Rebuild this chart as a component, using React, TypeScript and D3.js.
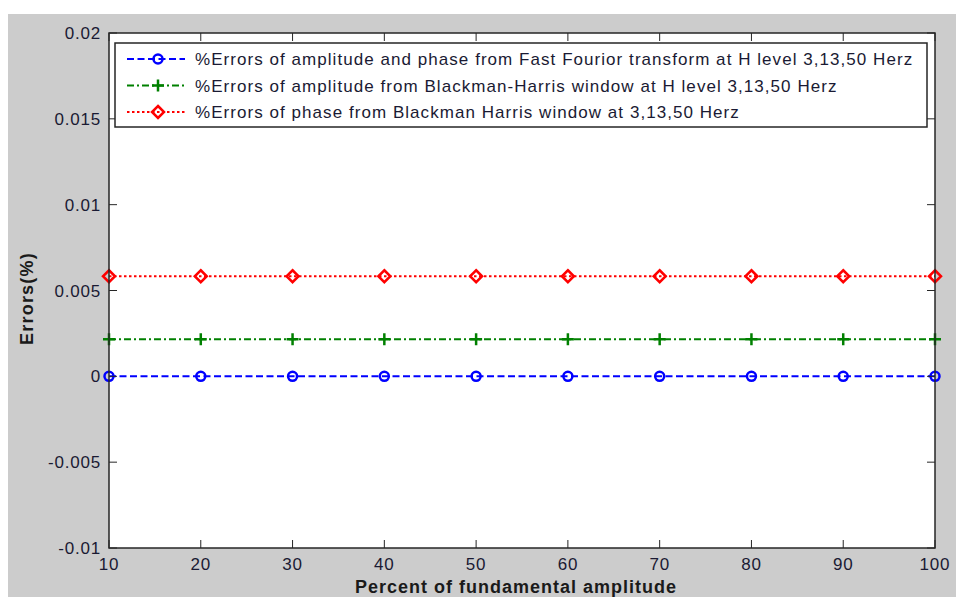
import React from "react";
import * as d3 from "d3";

const xValues = [10, 20, 30, 40, 50, 60, 70, 80, 90, 100];
const fftErrors = [0, 0, 0, 0, 0, 0, 0, 0, 0, 0];
const bhAmpErrors = [0.00216, 0.00216, 0.00216, 0.00216, 0.00216, 0.00216, 0.00216, 0.00216, 0.00216, 0.00216];
const bhPhaseErrors = [0.00583, 0.00583, 0.00583, 0.00583, 0.00583, 0.00583, 0.00583, 0.00583, 0.00583, 0.00583];
const yTicks = [-0.01, -0.005, 0, 0.005, 0.01, 0.015, 0.02];
const yTickLabels = ["-0.01", "-0.005", "0", "0.005", "0.01", "0.015", "0.02"];
const xTicks = [10, 20, 30, 40, 50, 60, 70, 80, 90, 100];
const legendLabels = [
  "%Errors of amplitude and phase from Fast Fourior transform at H level 3,13,50 Herz",
  "%Errors of amplitude from Blackman-Harris window at H level 3,13,50 Herz",
  "%Errors of phase from Blackman Harris window at 3,13,50 Herz",
];

const W = 956, H = 597;
const L = 109, R = 935, T = 33, B = 548;
const font = "'Liberation Sans', Arial, sans-serif";

type S = { data: number[]; color: string; dash: string; marker: "circle" | "plus" | "diamond" };
const series: S[] = [
  { data: fftErrors, color: "#0000ff", dash: "7,3.5", marker: "circle" },
  { data: bhAmpErrors, color: "#008000", dash: "7,3,2,3", marker: "plus" },
  { data: bhPhaseErrors, color: "#ff0000", dash: "2.5,2.5", marker: "diamond" },
];

function Marker({ kind, x, y, color }: { kind: string; x: number; y: number; color: string }) {
  if (kind === "circle") return <circle cx={x} cy={y} r={4.5} fill="none" stroke={color} strokeWidth={2.5} />;
  if (kind === "plus")
    return (
      <path d={`M${x - 6},${y}H${x + 6}M${x},${y - 6}V${y + 6}`} stroke={color} strokeWidth={2.5} fill="none" />
    );
  return (
    <path d={`M${x},${y - 6}L${x + 6},${y}L${x},${y + 6}L${x - 6},${y}Z`} stroke={color} strokeWidth={2.5} fill="none" />
  );
}

export default function App() {
  const x = d3.scaleLinear().domain([10, 100]).range([L, R]);
  const y = d3.scaleLinear().domain([-0.01, 0.02]).range([B, T]);
  const line = d3.line<number>().x((_, i) => x(xValues[i])).y((d) => y(d));
  const legX = 115, legY = 43, legW = 812, legH = 84;
  const tickFont = { fontFamily: font, fontSize: 17, letterSpacing: 0.8, fill: "#1a1a33" } as const;
  return (
    <svg width={W} height={H} style={{ position: "absolute", left: 0, top: 0 }}>
      <rect x={8} y={14} width={W - 8} height={H - 14} fill="#cccccc" />
      <rect x={L} y={T} width={R - L} height={B - T} fill="#ffffff" />
      {series.map((s, si) => (
        <g key={si}>
          <path d={line(s.data) || ""} fill="none" stroke={s.color} strokeWidth={2} strokeDasharray={s.dash} />
          {s.data.map((v, i) => (
            <Marker key={i} kind={s.marker} x={x(xValues[i])} y={y(v)} color={s.color} />
          ))}
        </g>
      ))}
      <rect x={L} y={T} width={R - L} height={B - T} fill="none" stroke="#262626" strokeWidth={1.5} />
      {xTicks.map((t) => (
        <g key={t}>
          <line x1={x(t)} x2={x(t)} y1={B} y2={B - 8} stroke="#262626" />
          <line x1={x(t)} x2={x(t)} y1={T} y2={T + 8} stroke="#262626" />
          <text x={x(t)} y={B + 22} textAnchor="middle" {...tickFont}>
            {t}
          </text>
        </g>
      ))}
      {yTicks.map((t, i) => (
        <g key={t}>
          <line x1={L} x2={L + 8} y1={y(t)} y2={y(t)} stroke="#262626" />
          <line x1={R} x2={R - 8} y1={y(t)} y2={y(t)} stroke="#262626" />
          <text x={L - 8} y={y(t) + 6} textAnchor="end" {...tickFont}>
            {yTickLabels[i]}
          </text>
        </g>
      ))}
      <rect x={legX} y={legY} width={legW} height={legH} fill="#ffffff" stroke="#262626" strokeWidth={1.5} />
      {series.map((s, i) => {
        const ly = legY + 16 + i * 26.5;
        return (
          <g key={i}>
            <line x1={legX + 12} x2={legX + 70} y1={ly} y2={ly} stroke={s.color} strokeWidth={2} strokeDasharray={s.dash} />
            <Marker kind={s.marker} x={legX + 43} y={ly} color={s.color} />
            <text x={legX + 80} y={ly + 6} fontFamily={font} fontSize={17} letterSpacing={1.05} fill="#1a1a33">
              {legendLabels[i]}
            </text>
          </g>
        );
      })}
      <text
        x={516}
        y={593}
        textAnchor="middle"
        fontFamily={font}
        fontSize={18}
        letterSpacing={1.0}
        fontWeight="bold"
        fill="#1a1a1a"
      >
        Percent of fundamental amplitude
      </text>
      <text
        transform={`translate(33,${(T + B) / 2 + 8}) rotate(-90)`}
        textAnchor="middle"
        fontFamily={font}
        fontSize={18}
        letterSpacing={1.2}
        fontWeight="bold"
        fill="#1a1a1a"
      >
        Errors(%)
      </text>
    </svg>
  );
}
